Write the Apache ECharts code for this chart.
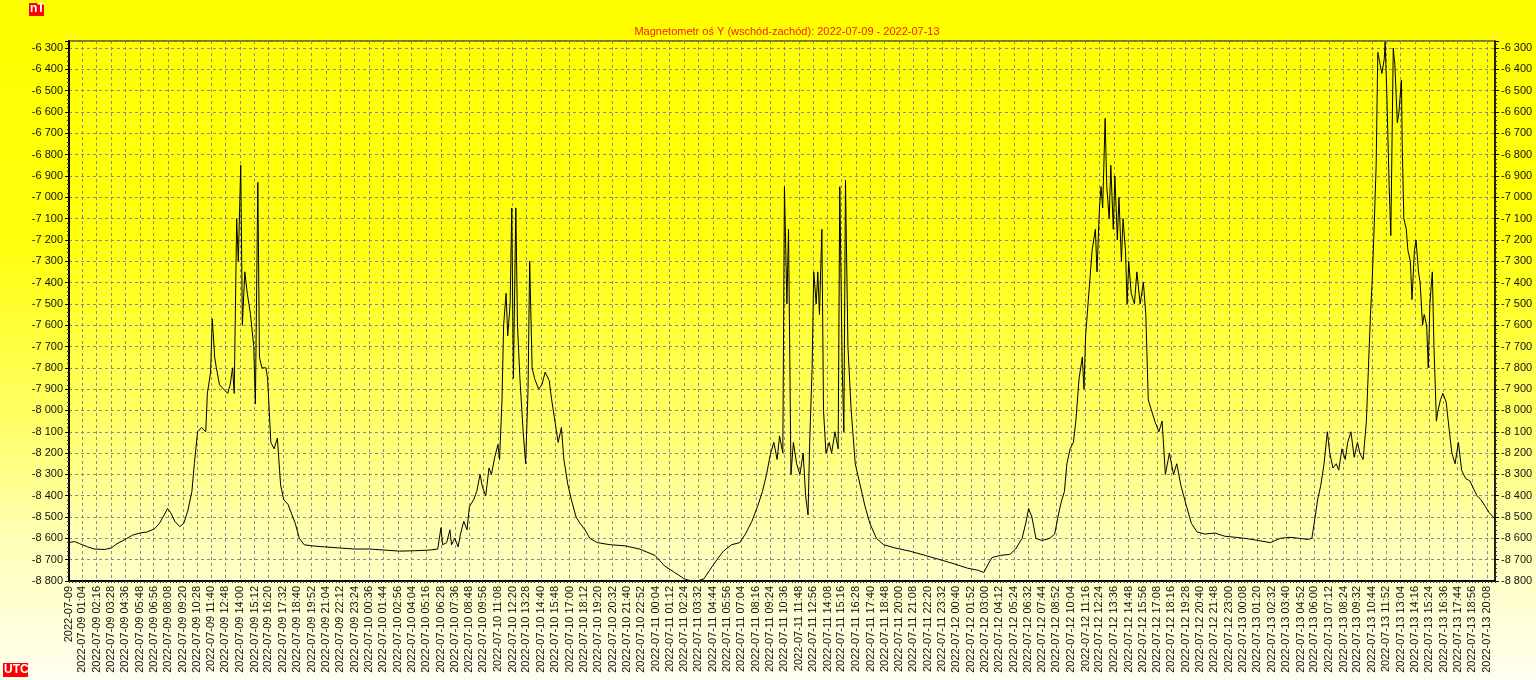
<!DOCTYPE html>
<html>
<head>
<meta charset="utf-8">
<script src="https://cdn.jsdelivr.net/npm/echarts@6/dist/echarts.min.js"></script>
<style>
  html, body { margin: 0; padding: 0; }
  body { width: 1536px; height: 680px; overflow: hidden;
    background: linear-gradient(to bottom, #ffff00 0%, #ffff0c 35%, #ffff60 60%, #ffffb8 80%, #fffff0 100%); }
  #chart { width: 1536px; height: 680px; }
</style>
</head>
<body>
<div id="chart"></div>
<script>
// ---- Data (time of day, nT) ----
const startDate = '2022-07-09';
const endTime = '2022-07-13 20:48';
const titleText = 'Magnetometr oś Y (wschód-zachód): 2022-07-09 - 2022-07-13';
const yMin = -8800;
const yMax = -6267;

const ticks09 = ['00:00','01:04','02:16','03:28','04:36','05:48','06:56','08:08','09:20','10:28','11:40','12:48','14:00','15:12','16:20','17:32','18:40','19:52','21:04','22:12','23:24'];
const ticks10 = ['00:36','01:44','02:56','04:04','05:16','06:28','07:36','08:48','09:56','11:08','12:20','13:28','14:40','15:48','17:00','18:12','19:20','20:32','21:40','22:52'];
const ticks11 = ['00:04','01:12','02:24','03:32','04:44','05:56','07:04','08:16','09:24','10:36','11:48','12:56','14:08','15:16','16:28','17:40','18:48','20:00','21:08','22:20','23:32'];
const ticks12 = ['00:40','01:52','03:00','04:12','05:24','06:32','07:44','08:52','10:04','11:16','12:24','13:36','14:48','15:56','17:08','18:16','19:28','20:40','21:48','23:00'];
const ticks13 = ['00:08','01:20','02:32','03:40','04:52','06:00','07:12','08:24','09:32','10:44','11:52','13:04','14:16','15:24','16:36','17:44','18:56','20:08'];

const day09 = [['00:00',-8620],['00:28',-8615],['00:52',-8625],['01:32',-8640],['02:04',-8650],['02:56',-8652],['03:28',-8645],['03:56',-8625],['04:36',-8605],['05:12',-8585],['05:48',-8575],['06:24',-8570],['07:00',-8555],['07:24',-8530],['07:48',-8490],['08:04',-8460],['08:20',-8480],['08:40',-8520],['09:04',-8545],['09:24',-8530],['09:44',-8470],['10:04',-8380],['10:16',-8250],['10:32',-8100],['10:52',-8080],['11:12',-8100],['11:20',-7920],['11:36',-7820],['11:44',-7570],['11:56',-7750],['12:04',-7800],['12:20',-7880],['12:40',-7900],['13:00',-7920],['13:12',-7880],['13:24',-7800],['13:32',-7920],['13:44',-7100],['13:52',-7300],['14:04',-6850],['14:12',-7600],['14:24',-7350],['14:36',-7450],['14:52',-7550],['15:08',-7700],['15:16',-7970],['15:28',-6930],['15:36',-7750],['15:48',-7800],['16:08',-7800],['16:16',-7850],['16:32',-8150],['16:48',-8180],['17:04',-8130],['17:20',-8350],['17:36',-8420],['17:56',-8440],['18:12',-8480],['18:32',-8530],['18:52',-8600],['19:16',-8630],['19:52',-8635],['20:56',-8640],['22:08',-8645],['23:24',-8650]];
const day10 = [['00:36',-8650],['01:52',-8655],['03:04',-8660],['04:20',-8658],['05:32',-8655],['06:12',-8650],['06:28',-8550],['06:36',-8630],['06:56',-8620],['07:12',-8560],['07:20',-8630],['07:36',-8600],['07:52',-8640],['08:04',-8580],['08:20',-8520],['08:36',-8560],['08:48',-8450],['09:08',-8420],['09:24',-8380],['09:40',-8300],['09:52',-8360],['10:08',-8400],['10:24',-8270],['10:36',-8300],['10:52',-8220],['11:08',-8160],['11:16',-8230],['11:28',-7950],['11:36',-7600],['11:48',-7450],['11:56',-7650],['12:08',-7500],['12:16',-7050],['12:24',-7850],['12:36',-7050],['12:44',-7600],['12:56',-7850],['13:12',-8100],['13:24',-8250],['13:36',-7900],['13:44',-7300],['13:56',-7800],['14:08',-7850],['14:28',-7900],['14:44',-7880],['15:00',-7820],['15:20',-7860],['15:32',-7950],['15:48',-8050],['16:04',-8150],['16:20',-8080],['16:32',-8230],['16:52',-8350],['17:12',-8430],['17:32',-8500],['17:52',-8530],['18:16',-8560],['18:40',-8600],['19:16',-8620],['20:20',-8630],['21:32',-8635],['22:44',-8650]];
const day11 = [['00:00',-8680],['00:48',-8730],['01:36',-8760],['02:24',-8790],['03:00',-8800],['03:28',-8800],['04:00',-8790],['04:28',-8750],['05:04',-8700],['05:36',-8660],['06:16',-8630],['06:56',-8620],['07:24',-8580],['07:56',-8520],['08:24',-8450],['08:48',-8380],['09:08',-8300],['09:28',-8200],['09:44',-8150],['10:00',-8230],['10:12',-8120],['10:28',-8200],['10:36',-6950],['10:48',-7500],['10:56',-7150],['11:08',-8300],['11:20',-8150],['11:36',-8250],['11:52',-8300],['12:08',-8200],['12:20',-8400],['12:32',-8490],['12:40',-8150],['12:52',-7800],['13:00',-7350],['13:12',-7500],['13:20',-7350],['13:28',-7550],['13:40',-7150],['13:48',-8000],['14:00',-8200],['14:16',-8150],['14:28',-8200],['14:44',-8100],['15:00',-8180],['15:08',-6950],['15:20',-7800],['15:28',-8100],['15:36',-6920],['15:48',-7700],['16:04',-8000],['16:24',-8250],['16:48',-8350],['17:12',-8450],['17:36',-8530],['18:08',-8600],['18:44',-8630],['19:40',-8645],['20:52',-8660],['22:08',-8680],['23:20',-8700]];
const day12 = [['00:32',-8720],['01:36',-8740],['02:28',-8750],['02:56',-8760],['03:12',-8730],['03:36',-8690],['04:16',-8680],['05:04',-8675],['05:32',-8650],['06:04',-8600],['06:24',-8520],['06:36',-8460],['06:52',-8500],['07:12',-8600],['07:40',-8610],['08:20',-8600],['08:44',-8580],['09:00',-8500],['09:16',-8430],['09:32',-8380],['09:44',-8250],['10:00',-8180],['10:16',-8150],['10:28',-8050],['10:44',-7850],['11:00',-7750],['11:08',-7900],['11:16',-7650],['11:32',-7450],['11:48',-7250],['12:04',-7150],['12:12',-7350],['12:24',-7050],['12:32',-6950],['12:40',-7050],['12:52',-6630],['13:00',-6950],['13:12',-7100],['13:20',-6850],['13:32',-7150],['13:40',-6900],['13:52',-7200],['14:00',-7000],['14:12',-7300],['14:20',-7100],['14:32',-7250],['14:40',-7500],['14:48',-7300],['15:00',-7450],['15:16',-7500],['15:28',-7350],['15:44',-7500],['16:00',-7400],['16:12',-7550],['16:24',-7950],['16:40',-8000],['16:56',-8050],['17:16',-8100],['17:32',-8050],['17:48',-8300],['18:08',-8200],['18:28',-8300],['18:44',-8250],['19:04',-8350],['19:32',-8450],['19:56',-8530],['20:24',-8570],['21:04',-8580],['21:52',-8575],['22:40',-8590],['23:32',-8595]];
const day13 = [['00:20',-8600],['01:24',-8610],['02:24',-8620],['03:12',-8600],['04:00',-8595],['04:48',-8600],['05:28',-8605],['05:48',-8600],['06:04',-8500],['06:16',-8420],['06:32',-8350],['06:48',-8250],['07:04',-8100],['07:16',-8200],['07:32',-8270],['07:48',-8250],['08:00',-8280],['08:16',-8180],['08:32',-8230],['08:44',-8150],['09:00',-8100],['09:16',-8220],['09:32',-8150],['09:44',-8200],['10:00',-8230],['10:16',-8050],['10:24',-7850],['10:36',-7550],['10:44',-7400],['10:52',-7200],['11:04',-6850],['11:12',-6320],['11:24',-6380],['11:32',-6420],['11:44',-6350],['11:48',-6270],['11:56',-6500],['12:08',-6950],['12:16',-7180],['12:28',-6300],['12:36',-6380],['12:48',-6650],['12:56',-6600],['13:08',-6450],['13:12',-6750],['13:20',-7100],['13:32',-7150],['13:40',-7250],['13:52',-7300],['14:00',-7480],['14:12',-7250],['14:20',-7200],['14:32',-7350],['14:40',-7400],['14:52',-7600],['15:00',-7550],['15:12',-7600],['15:20',-7800],['15:28',-7500],['15:40',-7350],['15:48',-7700],['16:00',-8050],['16:08',-8000],['16:20',-7950],['16:32',-7920],['16:48',-7960],['17:04',-8100],['17:16',-8200],['17:32',-8250],['17:48',-8150],['18:04',-8280],['18:24',-8320],['18:44',-8330],['19:04',-8370],['19:20',-8400],['19:40',-8420],['20:00',-8450],['20:20',-8480],['20:40',-8500],['20:48',-8510]];

// ---- Build axis categories (4-minute steps) ----
function pad(n) { return (n < 10 ? '0' : '') + n; }
function fmt(d) {
  return d.getUTCFullYear() + '-' + pad(d.getUTCMonth() + 1) + '-' + pad(d.getUTCDate()) + ' ' + pad(d.getUTCHours()) + ':' + pad(d.getUTCMinutes());
}
const t0 = Date.parse(startDate + 'T00:00:00Z');
const t1 = Date.parse(endTime.replace(' ', 'T') + ':00Z');
const STEP = 4 * 60000;
const categories = [];
for (let t = t0; t <= t1; t += STEP) categories.push(fmt(new Date(t)));

const dayBlocks = [['2022-07-09', day09], ['2022-07-10', day10], ['2022-07-11', day11], ['2022-07-12', day12], ['2022-07-13', day13]];
const tickBlocks = [['2022-07-09', ticks09], ['2022-07-10', ticks10], ['2022-07-11', ticks11], ['2022-07-12', ticks12], ['2022-07-13', ticks13]];

const tickSet = new Set();
tickBlocks.forEach(([d, arr]) => arr.forEach(t => tickSet.add(d + ' ' + t)));

const seriesData = [];
dayBlocks.forEach(([d, arr]) => arr.forEach(([t, v]) => {
  const ms = Date.parse(d + 'T' + t + ':00Z');
  const idx = Math.round((ms - t0) / STEP);
  seriesData.push([categories[Math.min(idx, categories.length - 1)], v]);
}));

function yFmt(v) {
  if (v % 100 !== 0) return '';
  const s = Math.abs(v).toString();
  const withSep = s.replace(/\B(?=(\d{3})+(?!\d))/g, ' ');
  return (v < 0 ? '-' : '') + withSep;
}

const FONT = "'Liberation Sans', Arial, sans-serif";
const chart = echarts.init(document.getElementById('chart'), null, { renderer: 'canvas' });
const showTick = (i, v) => tickSet.has(v);

chart.setOption({
  animation: false,
  backgroundColor: 'transparent',
  title: {
    text: titleText,
    left: 782, top: 21, textAlign: 'center',
    textStyle: { color: '#ff1a00', fontSize: 11, fontWeight: 'normal', fontFamily: FONT }
  },
  grid: { left: 69, right: 41, top: 41, bottom: 99, show: true, borderColor: '#000', borderWidth: 1, backgroundColor: 'transparent' },
  xAxis: {
    type: 'category',
    data: categories,
    boundaryGap: false,
    axisLine: { lineStyle: { color: '#000', width: 2 } },
    axisTick: { show: true, interval: 3, length: 2, lineStyle: { color: '#333', width: 1 } },
    axisLabel: {
      interval: showTick, rotate: 90, margin: 5,
      color: '#111', fontSize: 11, fontFamily: FONT,
      formatter: v => v.endsWith(' 00:00') ? v.slice(0, 10) : v
    },
    splitLine: { show: true, interval: showTick, lineStyle: { color: '#8a8a8a', type: [3, 3], width: 1 } }
  },
  yAxis: [
    {
      type: 'value', position: 'left', min: yMin, max: yMax, interval: 100,
      axisLine: { show: true, lineStyle: { color: '#000', width: 2 } },
      axisTick: { show: true, length: 4, lineStyle: { color: '#000' } },
      minorTick: { show: true, splitNumber: 5, length: 2, lineStyle: { color: '#333' } },
      axisLabel: { color: '#111', fontSize: 11, fontFamily: FONT, margin: 6, formatter: yFmt, showMaxLabel: false },
      splitLine: { show: true, lineStyle: { color: '#8a8a8a', type: [3, 3], width: 1 } }
    },
    {
      type: 'value', position: 'right', min: yMin, max: yMax, interval: 100,
      axisLine: { show: true, lineStyle: { color: '#000', width: 1.5 } },
      axisTick: { show: true, length: 4, lineStyle: { color: '#000' } },
      minorTick: { show: true, splitNumber: 5, length: 2, lineStyle: { color: '#333' } },
      axisLabel: { color: '#111', fontSize: 11, fontFamily: FONT, margin: 6, formatter: yFmt, showMaxLabel: false },
      splitLine: { show: false }
    }
  ],
  series: [{
    type: 'line',
    data: seriesData,
    showSymbol: false,
    symbol: 'none',
    connectNulls: true,
    sampling: null,
    lineStyle: { color: '#000', width: 1 },
    clip: true
  }],
  graphic: [
    { type: 'rect', left: 29, top: 3, shape: { width: 15, height: 13 }, style: { fill: '#ff0000' } },
    { type: 'text', left: 30, top: 3, style: { text: 'nT', fill: '#fff', font: "bold 12px " + FONT } },
    { type: 'rect', left: 3, top: 663, shape: { width: 25, height: 14 }, style: { fill: '#ff0000' } },
    { type: 'text', left: 4, top: 664, style: { text: 'UTC', fill: '#fff', font: "bold 12px " + FONT } }
  ]
});
</script>
</body>
</html>
